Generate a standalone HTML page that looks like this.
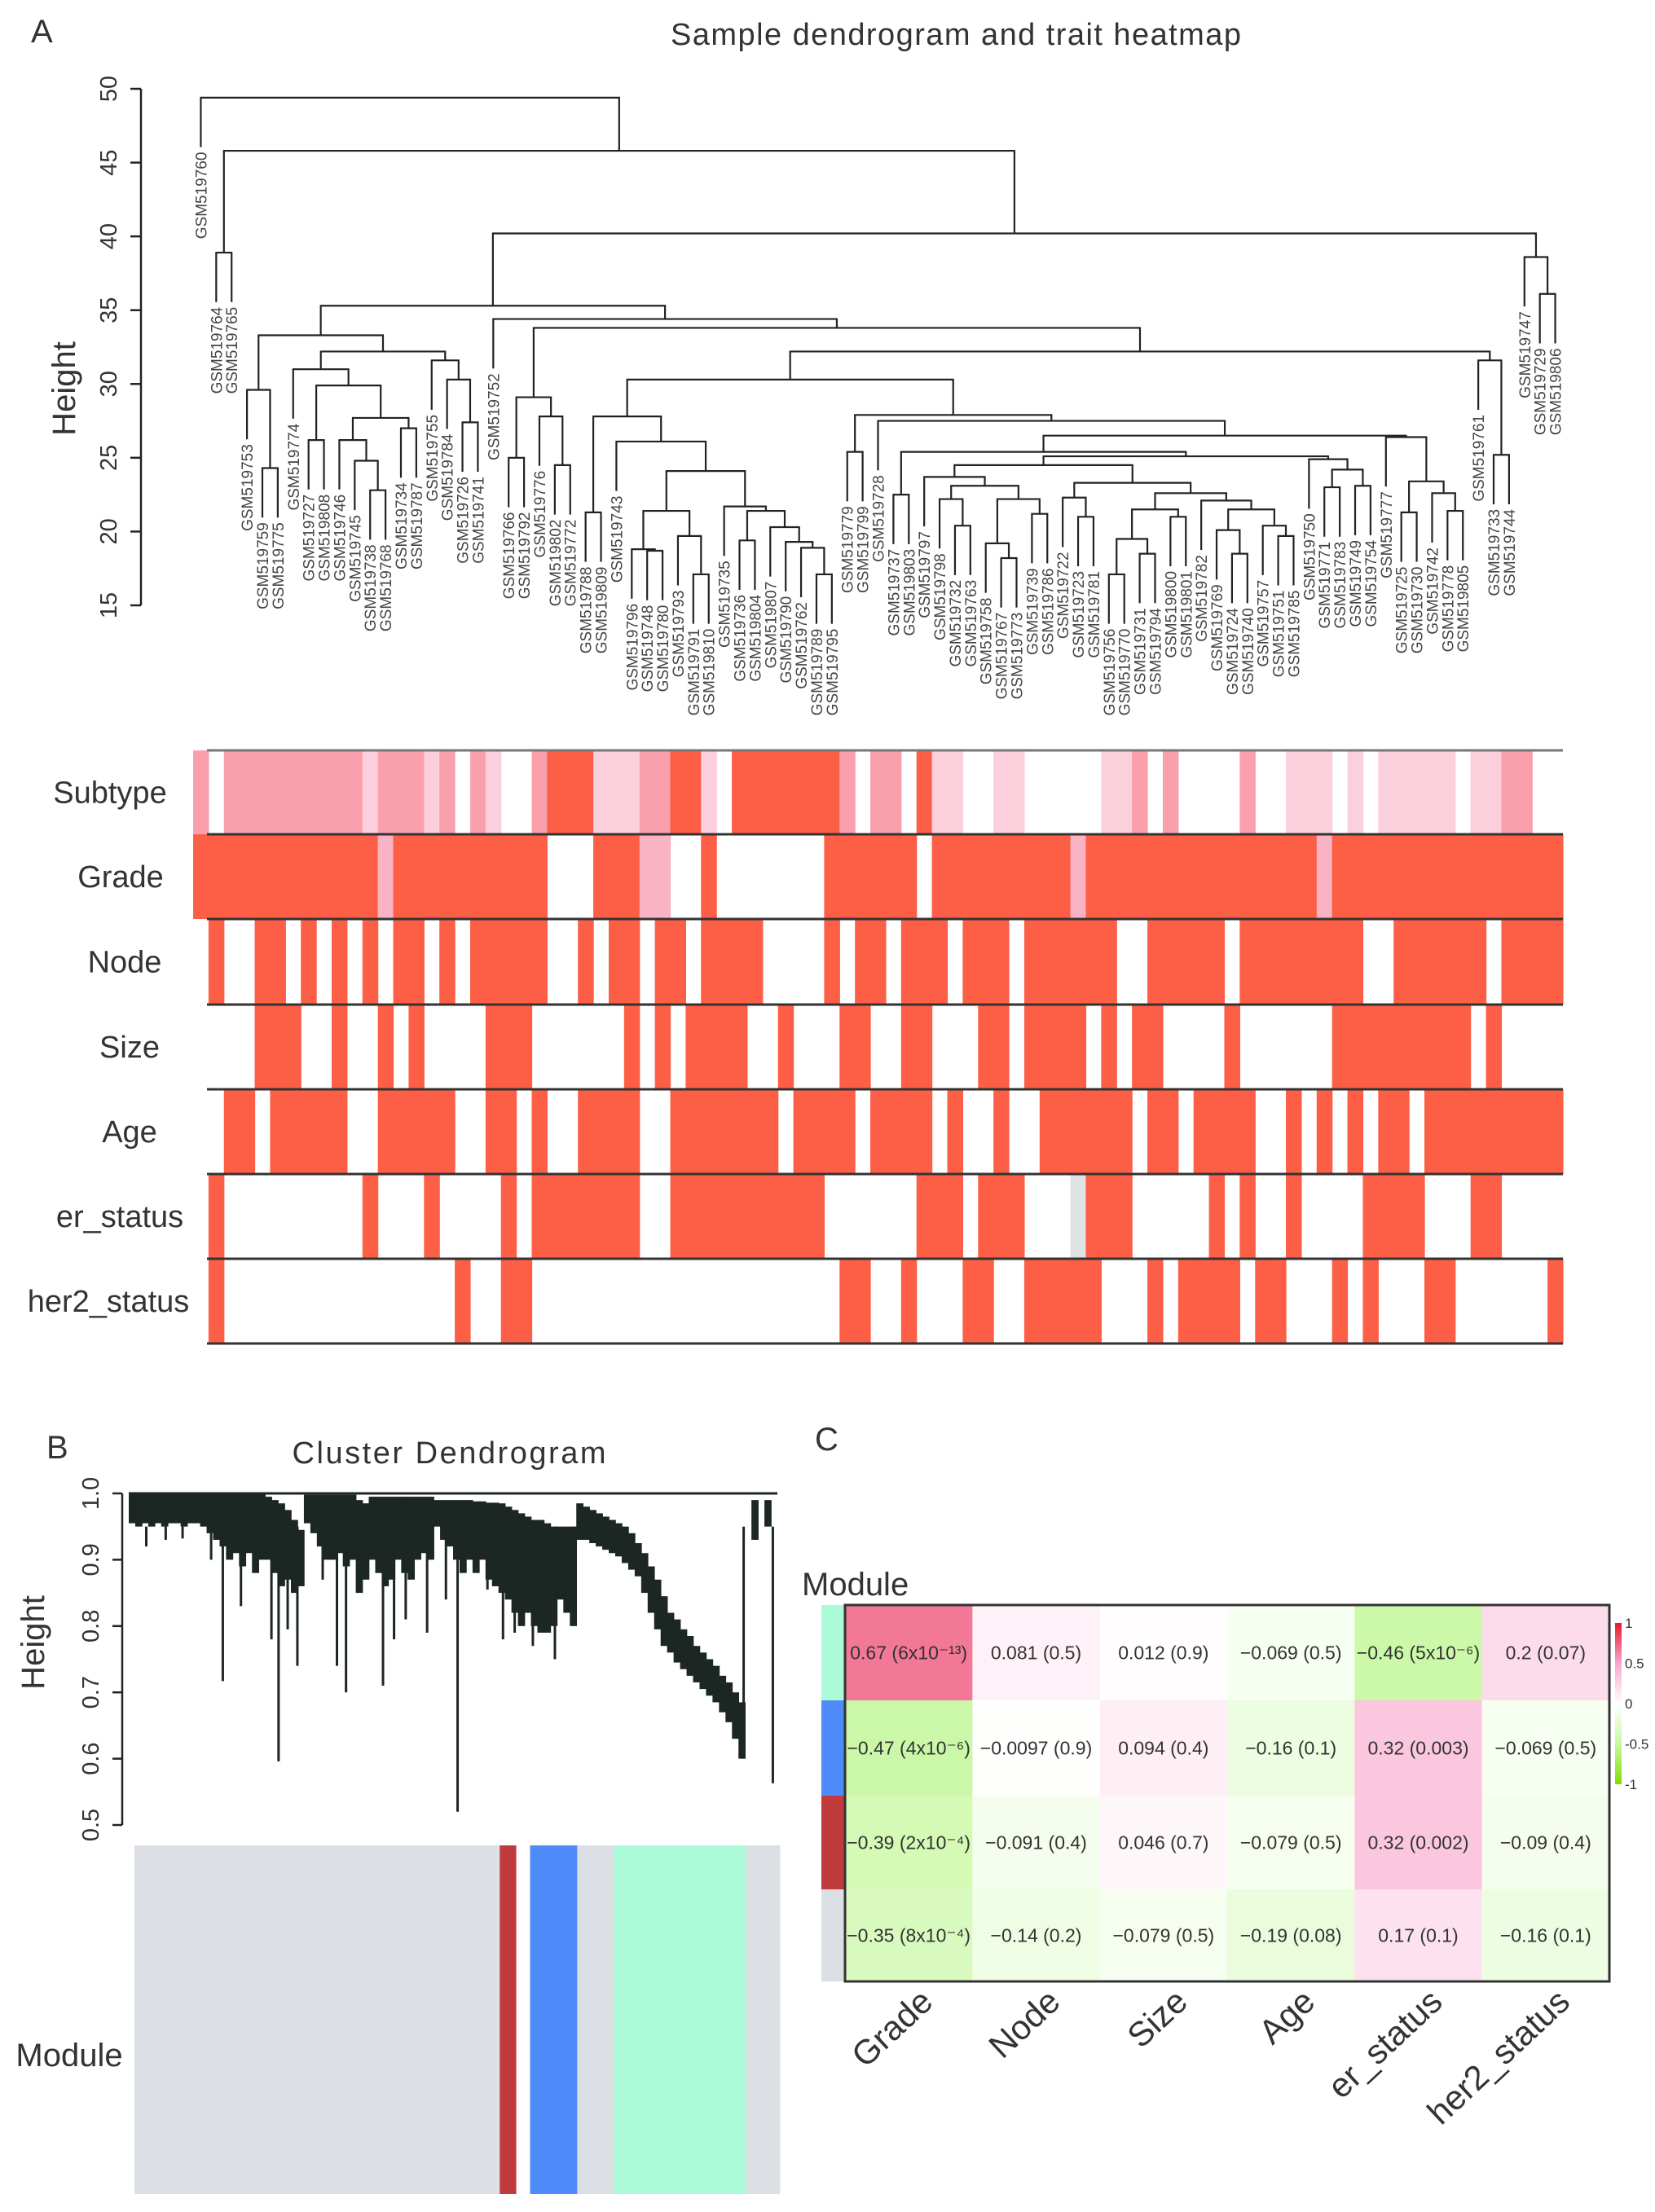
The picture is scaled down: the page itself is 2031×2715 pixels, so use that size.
<!DOCTYPE html>
<html><head><meta charset="utf-8"><style>
html,body{margin:0;padding:0;background:#fff}
svg{display:block}
text{font-family:"Liberation Sans",Arial,sans-serif}
</style></head><body>
<svg id="fig" xmlns="http://www.w3.org/2000/svg" width="2031" height="2715" viewBox="0 0 2031 2715">
<rect width="2031" height="2715" fill="#fff"/>
<text x="38" y="52" font-size="40" fill="#333">A</text>
<text x="1173" y="55" font-size="38" fill="#333" text-anchor="middle" textLength="700">Sample dendrogram and trait heatmap</text>
<text x="57" y="1790" font-size="40" fill="#333">B</text>
<text x="551" y="1796" font-size="38" fill="#333" text-anchor="middle" textLength="385">Cluster Dendrogram</text>
<text x="1000" y="1780" font-size="40" fill="#333">C</text>
<g id="gA"></g>
<g id="gH"></g>
<g id="gB"></g>
<g id="gC"></g>
</svg>
<script>
const NS="http://www.w3.org/2000/svg";
function mk(parent,tag,attrs,txt){const e=document.createElementNS(NS,tag);for(const k in attrs)e.setAttribute(k,attrs[k]);if(txt!==undefined)e.textContent=txt;parent.appendChild(e);return e;}

// ---------------- Panel A data ----------------
const sampleTree=[49.4,"760",
 [45.8,[38.9,"764","765"],
  [40.2,
   [35.3,
    [33.3,
     [29.6,"753",[24.3,"759","775"]],
     [32.2,
      [31.0,"774",[29.9,[26.2,"727","808"],[27.7,[26.2,"746",[24.8,"745",[22.8,"738","768"]]],[27.0,"734","787"]]]],
      [31.6,"755",[30.3,"784",[27.4,"726","741"]]]]],
    [34.4,"752",
     [33.8,
      [29.1,[25.0,"766","792"],[27.8,"776",[24.5,"802","772"]]],
      [32.2,
       [30.3,
        [27.8,[21.3,"788","809"],[26.1,"743",[24.1,
           [21.4,[18.8,"796",[18.7,"748","780"]],[19.7,"793",[17.1,"791","810"]]],
           [21.7,"735",[21.4,[19.4,"736","804"],[20.3,"807",[19.3,"790",[18.9,"762",[17.1,"789","795"]]]]]]]]],
        [27.9,[25.4,"779","799"],[27.5,"728",
          [26.5,
           [25.4,[22.5,"737","803"],
            [25.1,
             [24.5,
              [23.7,"797",[23.1,[22.2,"798",[20.4,"732","763"]],[22.2,[19.2,"758",[18.2,"767","773"]],[21.2,"739","786"]]]],
              [23.3,[22.3,"722",[21.0,"723","781"]],
               [22.6,[21.5,[19.5,[17.1,"756","770"],[18.5,"731","794"]],[21.0,"800","801"]],
                [22.1,"782",[21.5,[20.1,"769",[18.5,"724","740"]],[20.4,"757",[19.7,"751","785"]]]]]]],
             [24.9,"750",[24.2,[23.0,"771","783"],[23.1,"749","754"]]]]],
           [26.4,"777",[23.4,[21.3,"725","730"],[22.6,"742",[21.4,"778","805"]]]]]]]],
       [31.6,"761",[25.2,"733","744"]]]]]],
   [38.6,"747",[36.1,"729","806"]]]]];
const heightTicks=[15,20,25,30,35,40,45,50];
const traitNames=["Subtype","Grade","Node","Size","Age","er_status","her2_status"];
const traitLabelX=[135,148,153,159,159,147,133];
const subtypeVals ="20222222222122212021002333111223310333333320220311001100000112020000200111010111110112200".split("").map(Number);
const gradeVals   ="33333333333313333333333000333110030000000333333033333333313333333333333331333333333333333".split("").map(Number);
const nodeVals    ="03003303030303303033333003033033033330000303303330333033333300333330333333330033333303333".split("").map(Number);
const sizeVals    =("0000333003"+"0030300003"+"3300000030"+"3033330030"+"0033003300"+"0330333303"+"0330000300"+"0000333333"+"333030000").split("").map(Number);
const ageVals     ="00330333330033333003303003333003333333033330333303003003333330330333300303030330333333333".split("").map(Number);
const erVals      ="03000000000300030000303333333003333333333000000333033300043330000030300300003333000330000".split("").map(Number);
const her2Vals    ="03000000000000000300330000000000000000000033003000330033333000303333033000303000330000003".split("").map(Number);
const traitRows=[subtypeVals,gradeVals,nodeVals,sizeVals,ageVals,erVals,her2Vals];
const levelColors=["#ffffff","#fccfdc","#f9a0ac","#fc5f46","#dfe3e1"];
const gradeLight="#f9b3c4";

// ---------------- Panel A draw ----------------
const gA=document.getElementById("gA");
const NLEAF=89, HX0=237, HX1=1918, colW=(HX1-HX0)/NLEAF;
const yA=h=>109+(50-h)*18.114;
const HANG=3.35;
let leafIdx=0;
function drawNode(n){
  if(typeof n==="string"){const x=HX0+(leafIdx+0.5)*colW;leafIdx++;return {x:x,leaf:true,name:n};}
  const a=drawNode(n[1]), b=drawNode(n[2]), h=n[0];
  [a,b].forEach(c=>{
    const yb=c.leaf?yA(h-HANG):yA(c.h);
    const v=mk(gA,"line",{x1:c.x,x2:c.x,y1:yA(h),y2:yb,stroke:"#222","stroke-width":2.2});
    
    
    if(c.leaf){
      const t=mk(gA,"text",{x:0,y:0,"font-size":19,fill:"#444","text-anchor":"end",transform:`translate(${c.x+7},${yb+6}) rotate(-90)`},"GSM519"+c.name);
      
      
    }
  });
  const hl=mk(gA,"line",{x1:a.x-1,x2:b.x+1,y1:yA(h),y2:yA(h),stroke:"#222","stroke-width":2.2});
  
  
  return {x:(a.x+b.x)/2,h:h,leaf:false};
}
drawNode(sampleTree);
const axA=mk(gA,"line",{x1:173,x2:173,y1:yA(50),y2:yA(15),stroke:"#222","stroke-width":2.5});


heightTicks.forEach(v=>{
  const tk=mk(gA,"line",{x1:160,x2:173,y1:yA(v),y2:yA(v),stroke:"#222","stroke-width":2.5});
  
  
  const tl=mk(gA,"text",{x:0,y:0,"font-size":29,fill:"#333","text-anchor":"middle",transform:`translate(${143},${yA(v)}) rotate(-90)`},String(v));
  
  
});
const ytA=mk(gA,"text",{x:0,y:0,"font-size":40,fill:"#333","text-anchor":"middle",transform:"translate(92,477) rotate(-90)"},"Height");



// heatmap
const gH=document.getElementById("gH");
const rowEdges=[921,1024,1128,1233,1337,1441,1545,1649];
traitRows.forEach((vals,r)=>{
  vals.forEach((v,i)=>{
    if(v===0)return;
    let col=levelColors[v];
    if(r===1&&v===1)col=gradeLight;
    const c=mk(gH,"rect",{x:HX0+i*colW,y:rowEdges[r],width:colW+0.6,height:rowEdges[r+1]-rowEdges[r],fill:col});
    
    
  });
  const lb=mk(gH,"text",{x:traitLabelX[r],y:(rowEdges[r]+rowEdges[r+1])/2+13,"font-size":38,fill:"#333","text-anchor":"middle"},traitNames[r]);
  
  
});
rowEdges.forEach((y,k)=>{
  const l=mk(gH,"line",{x1:254,x2:HX1,y1:y,y2:y,stroke:k===0?"#777":"#333","stroke-width":3});
  
  
});

// ---------------- Panel B ----------------
const binTop=[1,1,1,1,1,1,1,1,1,1,1,1,1,1,1,1,1,1,1,1,1,.995,.99,.985,.975,.96,.945,.998,.998,.998,.998,.998,.998,.998,.998,.99,.985,.995,.995,.995,.995,.995,.995,.995,.995,.995,.995,.99,.99,.99,.99,.99,.99,.988,.988,.986,.986,.985,.98,.975,.97,.965,.96,.96,.955,.95,.95,.95,.95,.985,.98,.975,.97,.965,.96,.955,.95,.94,.925,.91,.89,.87,.845,.82,.81,.795,.785,.77,.76,.75,.74,.725,.715,.70,.685,.67,.99,.98,.99,.998];
const binBot=[.955,.95,.955,.95,.955,.95,.955,.955,.95,.955,.955,.95,.94,.93,.92,.90,.91,.89,.91,.88,.90,.9,.88,.86,.87,.85,.86,.955,.94,.92,.90,.9,.91,.89,.9,.85,.87,.9,.88,.86,.87,.9,.88,.87,.9,.91,.9,.95,.93,.92,.9,.88,.9,.88,.9,.87,.86,.85,.84,.82,.8,.82,.8,.79,.79,.8,.84,.82,.8,.93,.93,.925,.92,.915,.91,.905,.895,.885,.875,.85,.82,.795,.77,.76,.745,.735,.725,.715,.705,.695,.685,.67,.655,.63,.60,.94,.93,.99,.95];
const spikePos=[2.7,5.7,8.3,12.7,14.5,17.3,22,23.1,24.5,26,29.9,32.1,33.5,35.5,39.2,40.9,42.7,46,48.9,50.7,55.3,57.7,59.5,62.3,65.7,68.8,94.8,99.3];
const spikeH=[.92,.93,.932,.90,.717,.83,.78,.596,.795,.74,.87,.74,.70,.852,.71,.78,.81,.79,.84,.52,.855,.78,.79,.77,.75,.81,.60,.563];
const bTicks=[0.5,0.6,0.7,0.8,0.9,1.0];
const moduleSegStart=[0,56.6,61.3,68.6,74.3,94.8];
const moduleSegEnd=[56.6,59.1,68.6,74.3,94.8,100];
const moduleSegCol=["#dcdfe3","#c23b3c","#4f8bf9","#dcdfe3","#acfbd8","#dcdfe3"];
const gB=document.getElementById("gB");
const BX0=158,BX1=954;
const xB=p=>BX0+p/100*(BX1-BX0);
const yB=h=>1833+(1-h)*814;
const DK="#1c2622";
binTop.forEach((t,i)=>{
  const b=binBot[i]; if(t<=b)return;
  const r=mk(gB,"rect",{x:xB(i),y:yB(t),width:xB(1)-xB(0)+0.8,height:yB(b)-yB(t),fill:DK});
  
  
});
spikePos.forEach((p,i)=>{
  const l=mk(gB,"line",{x1:xB(p),x2:xB(p),y1:yB(0.95),y2:yB(spikeH[i]),stroke:DK,"stroke-width":3});
  
  
});
const topL=mk(gB,"line",{x1:BX0,x2:BX1,y1:yB(1),y2:yB(1),stroke:DK,"stroke-width":3});


const axB=mk(gB,"line",{x1:150,x2:150,y1:yB(1),y2:yB(0.5),stroke:"#222","stroke-width":2.5});


bTicks.forEach(v=>{
  const tk=mk(gB,"line",{x1:138,x2:150,y1:yB(v),y2:yB(v),stroke:"#222","stroke-width":2.5});
  
  
  const tl=mk(gB,"text",{x:0,y:0,"font-size":29,fill:"#333","text-anchor":"middle",transform:`translate(${121},${yB(v)}) rotate(-90)`},v.toFixed(1));
  
  
});
const ytB=mk(gB,"text",{x:0,y:0,"font-size":40,fill:"#333","text-anchor":"middle",transform:"translate(54,2016) rotate(-90)"},"Height");


const MX0=165,MX1=957;
moduleSegStart.forEach((s,i)=>{
  const r=mk(gB,"rect",{x:MX0+s/100*(MX1-MX0),y:2265,width:(moduleSegEnd[i]-s)/100*(MX1-MX0)+0.5,height:428,fill:moduleSegCol[i]});
  
  
});
const ml=mk(gB,"text",{x:85,y:2536,"font-size":40,fill:"#333","text-anchor":"middle"},"Module");



// ---------------- Panel C ----------------
const cTraits=["Grade","Node","Size","Age","er_status","her2_status"];
const cModules=["#acfbd8","#4f8bf9","#c23b3c","#dcdfe3"];
const corrRow1=[0.67,0.081,0.012,-0.069,-0.46,0.2];
const corrRow2=[-0.47,-0.0097,0.094,-0.16,0.32,-0.069];
const corrRow3=[-0.39,-0.091,0.046,-0.079,0.32,-0.09];
const corrRow4=[-0.35,-0.14,-0.079,-0.19,0.17,-0.16];
const pRow1=["6x10⁻¹³","0.5","0.9","0.5","5x10⁻⁶","0.07"];
const pRow2=["4x10⁻⁶","0.9","0.4","0.1","0.003","0.5"];
const pRow3=["2x10⁻⁴","0.4","0.7","0.5","0.002","0.4"];
const pRow4=["8x10⁻⁴","0.2","0.5","0.08","0.1","0.1"];
const corrRows=[corrRow1,corrRow2,corrRow3,corrRow4];
const pRows=[pRow1,pRow2,pRow3,pRow4];
const legendTicks=[1,0.5,0,-0.5,-1];
const gC=document.getElementById("gC");
const CX0=1037,CX1=1975,CY=[1970,2087,2204,2319,2432];
const cw=(CX1-CX0)/6;
function hex(c){return [parseInt(c.slice(1,3),16),parseInt(c.slice(3,5),16),parseInt(c.slice(5,7),16)];}
const stopsV=[-1,-0.5,0,0.5,1];
const stopsC=["#7ede00","#c8f8a2","#ffffff","#f8a8cc","#e8182e"];
function colorOf(v){
  for(let k=0;k<4;k++){if(v<=stopsV[k+1]){const t=(v-stopsV[k])/(stopsV[k+1]-stopsV[k]);const a=hex(stopsC[k]),b=hex(stopsC[k+1]);return `rgb(${a.map((x,j)=>Math.round(x+(b[j]-x)*t)).join(",")})`;}}
  return stopsC[4];
}
function fmt(v){return (v<0?"−":"")+String(Math.abs(v));}
corrRows.forEach((row,r)=>{
  const ms=mk(gC,"rect",{x:1008,y:CY[r],width:CX0-1008,height:CY[r+1]-CY[r],fill:cModules[r]});
  
  
  row.forEach((v,j)=>{
    const c=mk(gC,"rect",{x:CX0+j*cw,y:CY[r],width:cw+0.5,height:CY[r+1]-CY[r]+0.5,fill:colorOf(v)});
    
    
    const t=mk(gC,"text",{x:CX0+(j+0.5)*cw,y:(CY[r]+CY[r+1])/2+8,"font-size":23,fill:"#333","text-anchor":"middle"},fmt(v)+" ("+pRows[r][j]+")");
    
    
  });
});
const frame=mk(gC,"rect",{x:CX0,y:CY[0],width:CX1-CX0,height:CY[4]-CY[0],fill:"none",stroke:"#333","stroke-width":3});


cTraits.forEach((n,j)=>{
  const t=mk(gC,"text",{x:0,y:0,"font-size":42,fill:"#333","text-anchor":"end",transform:`translate(${CX0+(j+0.5)*cw+32},${2460}) rotate(-43)`},n);
  
  
});
const mlc=mk(gC,"text",{x:984,y:1958,"font-size":40,fill:"#333"},"Module");


const defs=mk(document.getElementById("fig"),"defs",{});
const lg=mk(defs,"linearGradient",{id:"cbar",x1:0,y1:0,x2:0,y2:1});
stopsC.slice().reverse().forEach((c,k)=>{mk(lg,"stop",{offset:k/4,"stop-color":c});});
const cb=mk(gC,"rect",{x:1982,y:1992,width:8,height:198,fill:"url(#cbar)"});


legendTicks.forEach(v=>{
  const t=mk(gC,"text",{x:1994,y:1992+(1-v)/2*198+6,"font-size":17,fill:"#333"},v===0?"0":fmt(v).replace("−","-"));
  
  
});
</script>
</body></html>
